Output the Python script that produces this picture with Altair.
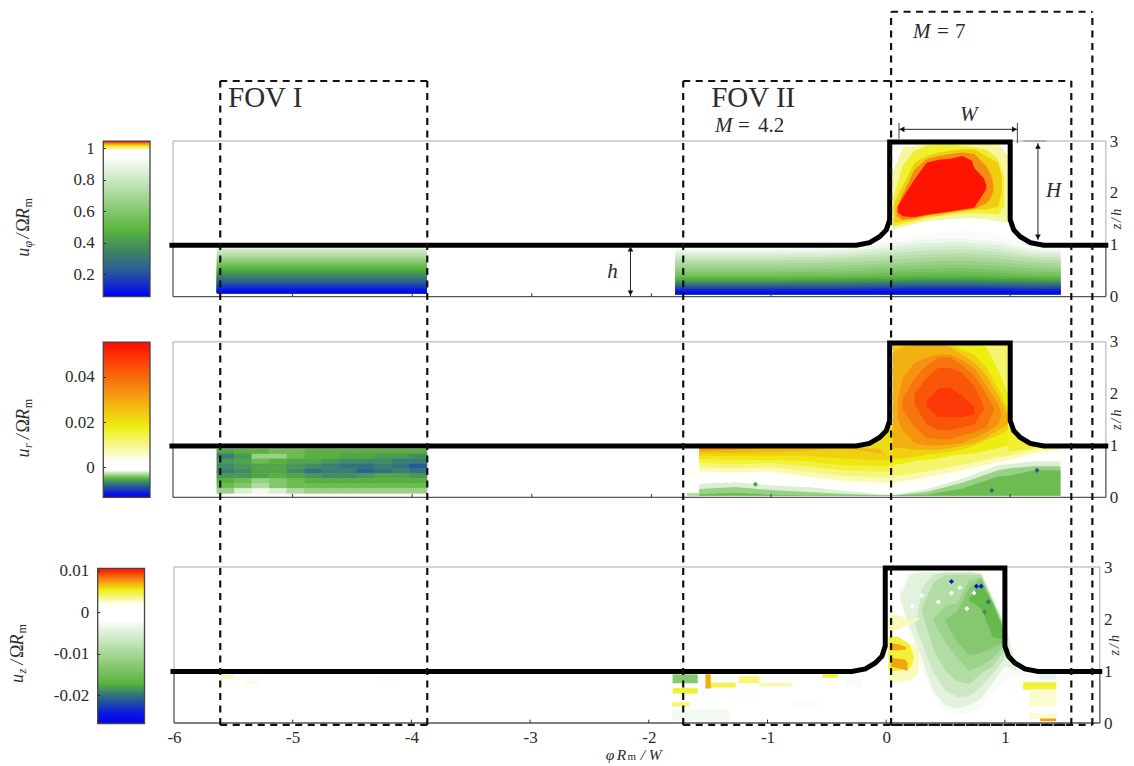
import altair as alt
import pandas as pd

FONT = "Liberation Serif"
TXT = "#2b2b2b"

# ---- plot box on the page and axis calibration of each panel
PL, PR, PT, PB = 174.0, 1100.0, 8.0, 723.0
CAL = {1: (173.0, 119.6, 296.7, 51.9), 2: (173.0, 119.6, 497.3, 51.8), 3: (174.0, 118.7, 723.0, 52.0)}
RIGHT_OFFSET = {1: 5.7, 2: 5.7, 3: 0}
Z_TICKS = [0, 1, 2, 3]
PHI_TICKS = [-6, -5, -4, -3, -2, -1, 0, 1]
PHI_INNER = [-5, -4, -3, -2, -1, 0, 1]

# ---- colour maps (stop value, colour)
BLUE, TEAL, GREEN, YEL, ORA, RED = "#0000f5", "#2c6a86", "#5ab43c", "#eeee12", "#f68c10", "#ff0c00"
MAP1_V = [0.058, 0.10, 0.22, 0.333, 0.48, 0.947, 0.985, 1.0, 1.015, 1.03, 1.046]
MAP1_C = [BLUE, "#0a18e0", "#2a5a9a", "#3a8068", GREEN, "#ffffff", "#ffffff", "#f6f6a0", YEL, ORA, RED]
MAP2_V = [-0.0133, -0.0115, -0.0078, -0.0049, -0.0012, 0.0025, 0.0047, 0.0179, 0.0341, 0.0553]
MAP2_C = [BLUE, "#0a18e0", TEAL, GREEN, "#ffffff", "#ffffff", "#fdfdd8", YEL, ORA, RED]
MAP3_V = [-0.0268, -0.0244, -0.0204, -0.0171, -0.0018, 0.0018, 0.0054, 0.0078, 0.0106]
MAP3_C = [BLUE, "#0a18e0", TEAL, GREEN, "#ffffff", "#ffffff", YEL, ORA, RED]

# ---- colour bars
BAR1 = dict(xl=103.3, xr=150.0, vref=1.0, yref=148.3, ppv=157.5, ticks=[0.2, 0.4, 0.6, 0.8, 1], stops=(MAP1_V, MAP1_C))
BAR2 = dict(xl=103.3, xr=150.0, vref=0.0, yref=467.3, ppv=2265.0, ticks=[0, 0.02, 0.04], stops=(MAP2_V, MAP2_C))
BAR3 = dict(xl=97.7, xr=144.5, vref=0.0, yref=612.3, ppv=4150.0, ticks=[-0.02, -0.01, 0, 0.01], stops=(MAP3_V, MAP3_C))

# ---- wall outline
WALL_PHI = [-6.03, -0.288, -0.176, -0.092, -0.036, -0.008, -0.008, 1.0, 1.0, 1.03, 1.084, 1.168, 1.28, 1.82]
WALL_Z = [0.99, 0.99, 1.04, 1.155, 1.285, 1.48, 2.98, 2.98, 1.48, 1.285, 1.155, 1.04, 0.99, 0.99]

# ---- u_phi, FOV I: colour levels with their top edge
G_FOV1 = [-5.633, -3.877]
U1A_V = [0.82, 0.79, 0.76, 0.73, 0.70, 0.67, 0.64, 0.61, 0.58, 0.55, 0.52, 0.495, 0.47, 0.445, 0.42, 0.395, 0.37, 0.345, 0.32,
         0.295, 0.27, 0.245, 0.22, 0.195, 0.17, 0.145, 0.12, 0.10, 0.08]
U1A_Z = [0.93, 0.89, 0.85, 0.815, 0.78, 0.75, 0.72, 0.69, 0.66, 0.63, 0.60, 0.57, 0.54, 0.515, 0.49, 0.465, 0.44, 0.415, 0.39,
         0.365, 0.34, 0.31, 0.28, 0.255, 0.23, 0.20, 0.17, 0.145, 0.12]

# ---- u_phi, FOV II: lower field
G1 = [-1.80, -1.0, -0.4, 0.02, 0.3, 0.6, 0.9, 1.2, 1.42]
U1B_V = [0.93, 0.90, 0.86, 0.82, 0.78, 0.74, 0.70, 0.66, 0.62, 0.58, 0.54, 0.50, 0.46, 0.42, 0.38, 0.34, 0.30, 0.26, 0.22,
         0.18, 0.15, 0.12, 0.08]
U1B_TOP = [
    [0.98, 0.98, 0.98, 1.10, 1.22, 1.28, 1.20, 1.00, 0.98],
    [0.90, 0.90, 0.92, 1.02, 1.10, 1.12, 1.06, 0.92, 0.90],
    [0.85, 0.85, 0.87, 0.96, 1.03, 1.05, 0.99, 0.87, 0.85],
    [0.80, 0.80, 0.82, 0.90, 0.96, 0.98, 0.92, 0.82, 0.80],
    [0.75, 0.75, 0.77, 0.84, 0.89, 0.91, 0.86, 0.77, 0.75],
    [0.70, 0.70, 0.72, 0.78, 0.82, 0.84, 0.80, 0.72, 0.70],
    [0.64, 0.64, 0.66, 0.71, 0.75, 0.77, 0.73, 0.66, 0.64],
    [0.58, 0.58, 0.60, 0.64, 0.68, 0.70, 0.66, 0.60, 0.58],
    [0.52, 0.52, 0.54, 0.58, 0.61, 0.62, 0.59, 0.54, 0.52],
    [0.47, 0.47, 0.48, 0.52, 0.54, 0.55, 0.52, 0.48, 0.47],
    [0.42, 0.42, 0.43, 0.46, 0.48, 0.49, 0.46, 0.43, 0.42],
    [0.38, 0.38, 0.39, 0.41, 0.43, 0.43, 0.41, 0.39, 0.38],
    [0.35, 0.35, 0.36, 0.375, 0.39, 0.39, 0.375, 0.36, 0.35],
    [0.32, 0.32, 0.33, 0.34, 0.35, 0.35, 0.34, 0.33, 0.32],
    [0.295, 0.295, 0.305, 0.315, 0.325, 0.325, 0.315, 0.305, 0.295],
    [0.27, 0.27, 0.28, 0.29, 0.30, 0.30, 0.29, 0.28, 0.27],
    [0.25, 0.25, 0.255, 0.265, 0.275, 0.275, 0.265, 0.255, 0.25],
    [0.23, 0.23, 0.23, 0.24, 0.25, 0.25, 0.24, 0.23, 0.23],
    [0.205, 0.205, 0.205, 0.215, 0.225, 0.225, 0.215, 0.205, 0.205],
    [0.18, 0.18, 0.18, 0.19, 0.20, 0.20, 0.19, 0.18, 0.18],
    [0.16, 0.16, 0.16, 0.17, 0.175, 0.175, 0.17, 0.16, 0.16],
    [0.14, 0.14, 0.14, 0.15, 0.15, 0.15, 0.15, 0.14, 0.14],
    [0.10, 0.10, 0.10, 0.11, 0.11, 0.11, 0.11, 0.10, 0.10],
]

# ---- u_phi, jet inside the rib: value, phi, top, bottom
U1C = [
    (1.0, [0.02, 0.1, 0.2, 0.3, 0.4, 0.5, 0.6, 0.7, 0.8, 0.9, 0.98],
     [2.39, 2.88, 2.91, 2.94, 2.95, 2.95, 2.95, 2.95, 2.95, 2.95, 2.71],
     [1.29, 1.35, 1.40, 1.45, 1.48, 1.49, 1.51, 1.51, 1.49, 1.45, 1.43]),
    (1.012, [0.02, 0.1, 0.2, 0.3, 0.4, 0.5, 0.6, 0.7, 0.8, 0.9, 0.95],
     [1.87, 2.52, 2.81, 2.91, 2.93, 2.93, 2.91, 2.88, 2.84, 2.65, 2.30],
     [1.35, 1.40, 1.45, 1.51, 1.55, 1.58, 1.61, 1.61, 1.61, 1.58, 1.75]),
    (1.02, [0.03, 0.1, 0.2, 0.3, 0.4, 0.5, 0.6, 0.7, 0.8, 0.9, 0.93],
     [1.80, 2.13, 2.58, 2.71, 2.78, 2.81, 2.84, 2.84, 2.71, 2.58, 2.30],
     [1.42, 1.45, 1.48, 1.55, 1.56, 1.61, 1.64, 1.68, 1.68, 1.74, 2.00]),
    (1.03, [0.05, 0.1, 0.2, 0.3, 0.4, 0.5, 0.6, 0.7, 0.8, 0.84, 0.86],
     [1.72, 1.97, 2.45, 2.65, 2.71, 2.75, 2.78, 2.75, 2.52, 2.35, 2.15],
     [1.55, 1.48, 1.51, 1.56, 1.60, 1.63, 1.66, 1.69, 1.80, 1.90, 2.05]),
    (1.045, [0.06, 0.1, 0.2, 0.3, 0.4, 0.5, 0.6, 0.68, 0.7, 0.78, 0.80],
     [1.74, 1.90, 2.26, 2.58, 2.64, 2.66, 2.71, 2.62, 2.48, 2.28, 2.15],
     [1.62, 1.55, 1.53, 1.58, 1.61, 1.64, 1.68, 1.71, 1.72, 2.00, 2.08]),
]

# ---- u_r, FOV I: cells (top row first), in units of 0.001
G2A_X0, G2A_X1, G2A_Z0, G2A_Z1 = -5.633, -3.877, 0.077, 0.93
U2A = [
    [-5.5, -5, -5, -4.5, -4.5, -5, -5, -5, -5, -5, -5, -5],
    [-7, -6, -3.5, -3.5, -4.5, -5, -5, -5.5, -5.5, -6, -6, -6.5],
    [-6, -5.5, -4.5, -5, -5.5, -5.5, -6, -6.5, -6.5, -6.5, -7, -7],
    [-6.5, -6, -5.5, -5.5, -6, -6.5, -7, -7.5, -7.5, -7, -7.5, -8.5],
    [-7, -6.5, -5.5, -5.5, -6.5, -7.5, -7, -7, -8, -7.5, -7, -7.5],
    [-6, -6, -5.5, -5, -5.5, -6, -6.5, -6.5, -6, -5.5, -5.5, -6],
    [-5, -4.5, -3.5, -4, -4.5, -5, -5, -5, -5, -5, -5, -5],
    [-4.5, -4, -3, -4, -4.5, -4.5, -4.5, -4.5, -4.5, -4.5, -4.5, -4.5],
    [-3.5, -2, -1.5, -2, -3, -3.5, -3.5, -3.5, -3.5, -3.5, -3.5, -3.5],
]

# ---- u_r, FOV II: positive levels (lower edge, top edge follows the wall)
G2 = [-1.60, -1.3, -1.0, -0.7, -0.4, -0.1, 0.02, 0.3, 0.6, 0.9, 1.0, 1.2, 1.42]
U2B_V = [0.003, 0.007, 0.011, 0.015, 0.019, 0.023, 0.027, 0.032]
U2B_BOT = [
    [0.42, 0.38, 0.42, 0.30, 0.22, 0.16, 0.17, 0.25, 0.40, 0.58, 0.60, 0.77, 0.85],
    [0.50, 0.48, 0.50, 0.40, 0.32, 0.28, 0.28, 0.38, 0.52, 0.68, 0.72, 0.85, 0.93],
    [0.58, 0.56, 0.58, 0.50, 0.42, 0.38, 0.40, 0.50, 0.63, 0.78, 0.80, 0.92, 0.96],
    [0.66, 0.64, 0.66, 0.60, 0.52, 0.50, 0.50, 0.60, 0.72, 0.85, 0.88, 0.96, 0.96],
    [0.74, 0.72, 0.72, 0.70, 0.62, 0.60, 0.62, 0.70, 0.82, 0.93, 0.95, 0.96, 0.96],
    [0.80, 0.80, 0.80, 0.80, 0.75, 0.72, 0.72, 0.80, 0.92, 0.96, 0.96, 0.96, 0.96],
    [0.86, 0.86, 0.87, 0.90, 0.96, 0.85, 0.82, 0.90, 0.96, 0.96, 0.96, 0.96, 0.96],
    [0.90, 0.92, 0.96, 0.96, 0.96, 0.96, 0.92, 0.96, 0.96, 0.96, 0.96, 0.96, 0.96],
]
# corners under the fillets
U2E = [
    (0.021, [-0.22, -0.1, -0.03, 0.03], [1.0, 1.1, 1.3, 1.45], [0.94, 0.94, 0.80, 0.72]),
    (0.016, [0.97, 1.04, 1.1, 1.22], [1.45, 1.2, 1.08, 0.97], [0.95, 0.90, 0.93, 0.95]),
]
# negative levels (upper edge), bottom at z = 0.03
U2C_V = [-0.002, -0.0035, -0.0045]
U2C_TOP = [
    [0.26, 0.29, 0.23, 0.20, 0.13, 0.065, 0.04, 0.16, 0.36, 0.62, 0.64, 0.69, 0.69],
    [0.16, 0.20, 0.14, 0.10, 0.07, 0.04, 0.04, 0.10, 0.28, 0.52, 0.56, 0.60, 0.60],
    [0.06, 0.09, 0.05, 0.04, 0.04, 0.04, 0.04, 0.05, 0.17, 0.40, 0.42, 0.52, 0.52],
]
U2_WEDGE = [(-1.70, -1.60, 0.03, 0.08, -0.003), (-1.70, -1.60, 0.42, 0.47, 0.004)]
# jet in the rib
GR = [0.02, 0.1, 0.2, 0.3, 0.4, 0.5, 0.6, 0.7, 0.8, 0.9, 0.98]
U2D = [
    (0.012, GR, [2.95] * 11, [0.40, 0.43, 0.47, 0.50, 0.55, 0.60, 0.63, 0.68, 0.73, 0.78, 0.80]),
    (0.018, GR, [2.95, 2.95, 2.95, 2.95, 2.95, 2.95, 2.95, 2.95, 2.90, 2.45, 2.00],
     [0.62, 0.65, 0.70, 0.72, 0.75, 0.80, 0.82, 0.85, 0.90, 0.95, 1.00]),
    (0.023, GR, [2.95, 2.95, 2.95, 2.95, 2.95, 2.95, 2.85, 2.75, 2.50, 2.10, 1.70],
     [0.75, 0.75, 0.78, 0.82, 0.85, 0.88, 0.92, 1.00, 1.10, 1.20, 1.30]),
    (0.028, GR, [2.80, 2.90, 2.95, 2.95, 2.95, 2.90, 2.75, 2.60, 2.35, 1.95, 1.60],
     [0.95, 0.95, 0.92, 0.92, 0.92, 0.95, 1.00, 1.05, 1.15, 1.30, 1.40]),
    (0.033, [0.06, 0.1, 0.2, 0.3, 0.4, 0.5, 0.6, 0.7, 0.8, 0.9, 0.93],
     [1.90, 2.30, 2.60, 2.70, 2.75, 2.75, 2.65, 2.50, 2.15, 1.80, 1.60],
     [1.50, 1.30, 1.05, 1.00, 1.00, 1.02, 1.05, 1.15, 1.25, 1.40, 1.60]),
    (0.038, [0.1, 0.2, 0.3, 0.4, 0.5, 0.6, 0.7, 0.8, 0.87],
     [1.90, 2.30, 2.55, 2.70, 2.70, 2.55, 2.35, 2.00, 1.70],
     [1.70, 1.35, 1.15, 1.12, 1.12, 1.20, 1.25, 1.35, 1.70]),
    (0.043, [0.2, 0.3, 0.4, 0.5, 0.6, 0.7, 0.78],
     [2.00, 2.30, 2.50, 2.50, 2.40, 2.15, 1.75],
     [1.80, 1.40, 1.30, 1.30, 1.35, 1.40, 1.70]),
    (0.048, [0.3, 0.4, 0.5, 0.6, 0.7],
     [1.85, 2.10, 2.12, 1.95, 1.75],
     [1.75, 1.55, 1.55, 1.55, 1.60]),
]
U2_SPOT_PHI = [1.224, 0.846, -1.13]
U2_SPOT_Z = [0.52, 0.13, 0.25]
U2_SPOT_V = [-0.0085, -0.008, -0.0055]

# ---- u_z: patches phi0, phi1, z0, z1, value
U3_PATCH = [
    (-1.797, -1.59, 0.77, 0.93, -0.013), (-1.797, -1.59, 0.57, 0.67, 0.0048), (-1.80, -1.66, 0.32, 0.40, 0.0038),
    (-1.80, -1.32, 0.05, 0.25, -0.0028), (-1.46, -1.27, 0.83, 0.90, -0.002), (-1.49, -1.27, 0.69, 0.77, 0.0045),
    (-1.52, -1.48, 0.67, 0.93, 0.007), (-1.24, -1.07, 0.77, 0.90, 0.0038), (-1.07, -0.80, 0.71, 0.77, 0.003),
    (-0.535, -0.41, 0.88, 0.93, 0.005), (-0.34, -0.20, 0.70, 0.86, -0.0025), (1.155, 1.43, 0.64, 0.78, 0.0048),
    (1.21, 1.43, 0.32, 0.64, 0.0025), (1.21, 1.43, 0.08, 0.19, 0.0025), (1.30, 1.43, 0.04, 0.08, 0.0075),
    (1.30, 1.43, 0.84, 0.94, -0.004), (-5.60, -5.50, 0.85, 0.92, 0.0028), (-5.41, -5.28, 0.76, 0.80, 0.0024),
    (-4.30, -4.10, 0.80, 0.90, -0.0022), (-1.30, -1.10, 0.45, 0.55, -0.0023), (-0.80, -0.55, 0.30, 0.42, -0.0022),
]
U3A = [
    (-0.0025, [0.1, 0.2, 0.3, 0.4, 0.5, 0.6, 0.7, 0.8, 0.9, 1.0, 1.1, 1.3],
     [2.60, 2.92, 2.93, 2.93, 2.93, 2.93, 2.93, 2.92, 2.55, 2.00, 1.05, 0.90],
     [2.50, 1.70, 1.05, 0.50, 0.22, 0.15, 0.20, 0.30, 0.60, 0.80, 0.90, 0.90]),
    (-0.0045, [0.12, 0.2, 0.3, 0.4, 0.5, 0.6, 0.7, 0.8, 0.9, 1.0, 1.1],
     [2.45, 2.85, 2.90, 2.90, 2.90, 2.90, 2.90, 2.87, 2.40, 1.90, 1.05],
     [2.35, 1.85, 1.25, 0.60, 0.34, 0.28, 0.34, 0.47, 0.78, 1.10, 1.00]),
    (-0.0065, [0.25, 0.3, 0.4, 0.5, 0.6, 0.7, 0.8, 0.9, 1.0],
     [1.90, 2.60, 2.85, 2.90, 2.90, 2.90, 2.87, 2.35, 1.85],
     [1.85, 1.55, 0.95, 0.62, 0.50, 0.52, 0.70, 0.95, 1.25]),
    (-0.009, [0.3, 0.4, 0.5, 0.6, 0.7, 0.8, 0.9, 1.0],
     [2.20, 2.70, 2.85, 2.85, 2.85, 2.85, 2.35, 1.85],
     [2.15, 1.40, 1.00, 0.80, 0.75, 0.95, 1.10, 1.40]),
    (-0.011, [0.4, 0.5, 0.6, 0.7, 0.8, 0.9, 1.0],
     [2.00, 2.25, 2.30, 2.75, 2.80, 2.30, 1.80],
     [1.95, 1.55, 1.25, 1.00, 1.10, 1.25, 1.50]),
    (-0.013, [0.5, 0.6, 0.7, 0.8, 0.9, 1.0],
     [2.00, 2.15, 2.60, 2.78, 2.30, 1.75],
     [1.95, 1.55, 1.30, 1.35, 1.45, 1.55]),
    (-0.016, [0.7, 0.8, 0.9, 1.0],
     [2.40, 2.70, 2.30, 1.72],
     [2.35, 2.20, 1.65, 1.60]),
]
U3B = [
    (0.0028, [0.02, 0.1, 0.2, 0.28], [2.10, 2.07, 1.98, 2.03], [1.75, 1.80, 1.88, 2.00]),
    (0.0028, [0.02, 0.1, 0.2, 0.27, 0.28], [1.70, 1.65, 1.55, 1.45, 1.20], [0.82, 0.78, 0.82, 0.95, 1.15]),
    (0.0048, [0.02, 0.1, 0.2, 0.23], [1.65, 1.66, 1.50, 1.30], [1.00, 1.00, 1.05, 1.20]),
    (0.0072, [0.03, 0.1, 0.17], [1.53, 1.52, 1.45], [1.40, 1.40, 1.42]),
    (0.0072, [0.04, 0.16, 0.18], [1.25, 1.22, 1.15], [1.08, 1.02, 1.00]),
]
U3_SPOT_PHI = [0.55, 0.76, 0.80, 0.86, 0.83, 0.55, 0.74, 0.44, 0.30, 0.68, 0.22, 0.62]
U3_SPOT_Z = [2.72, 2.63, 2.63, 2.33, 2.14, 2.50, 2.50, 2.33, 2.45, 2.20, 2.25, 2.60]
U3_SPOT_V = [-0.025, -0.025, -0.025, -0.02, -0.019, 0.0, 0.0, 0.0, 0.0, -0.002, 0.0, -0.002]

# ---- annotation in the coordinates of the top panel
BOXES = [(-5.605, -3.874, 4.156), (-1.734, 1.511, 4.156), (0.004, 1.687, 5.49)]
BOX_BOTTOM = -8.25
NOTES = [
    ("FOV I", -5.54, 3.83, 29, "n"), ("FOV II", -1.50, 3.83, 29, "n"),
    ("M", -1.468, 3.29, 21, "i"), ("=", -1.276, 3.29, 21, "n"), ("4.2", -1.109, 3.29, 21, "n"),
    ("M", 0.187, 5.10, 21, "i"), ("=", 0.388, 5.10, 21, "n"), ("7", 0.538, 5.10, 21, "n"),
    ("W", 0.58, 3.50, 21, "i"), ("H", 1.30, 2.04, 21, "i"), ("h", -2.37, 0.476, 21, "i"),
]
DIM_LINES = [
    (0.07, 1.06, 3.225, 3.225, "#222222"), (0.07, 0.07, 3.04, 3.347, "#444444"),
    (1.06, 1.06, 2.96, 3.347, "#444444"), (1.11, 1.30, 3.0, 3.0, "#888888"),
    (1.232, 1.232, 1.09, 2.96, "#222222"), (-2.175, -2.175, 0.013, 0.977, "#222222"),
]
HEADS = [
    (0.095, 3.225, "triangle-left"), (1.035, 3.225, "triangle-right"), (1.232, 2.90, "triangle-up"),
    (1.232, 1.15, "triangle-down"), (-2.175, 0.92, "triangle-up"), (-2.175, 0.07, "triangle-down"),
]
# bar labels, reading upwards: text, z, sub flag, style
BAR_TITLE = [("u", 0.77, 0, "i"), ("/", 1.12, 0, "i"), ("Ω", 1.25, 0, "n"), ("R", 1.49, 0, "i"), ("m", 1.72, 1, "n")]
BAR_SUB_Z = 0.95
BAR_TITLE_PHI = {1: (-7.25, -7.21, "φ"), 2: (-7.25, -7.21, "r"), 3: (-7.317, -7.28, "z")}
X_TITLE = [("φ", -2.363, -0.615, 15.5, "i"), ("R", -2.27, -0.615, 15.5, "i"), ("m", -2.18, -0.655, 11, "n"),
           ("/", -2.068, -0.615, 15.5, "i"), ("W", -2.0, -0.615, 15.5, "i")]


def x_dom(p):
    x0, xu, _, _ = CAL[p]
    return [-6 + (PL - x0) / xu, -6 + (PR - x0) / xu]


def y_dom(p):
    _, _, z0, zu = CAL[p]
    return [(z0 - PB) / zu, (z0 - PT) / zu]


def X(p, f="x0", axis=None):
    return alt.X(f"{f}:Q", scale=alt.Scale(domain=x_dom(p), nice=False, zero=False), axis=axis)


def Y(p, f="y0", axis=None):
    return alt.Y(f"{f}:Q", scale=alt.Scale(domain=y_dom(p), nice=False, zero=False), axis=axis, stack=None)


def cscale(stops):
    return alt.Scale(domain=stops[0], range=stops[1], interpolate="rgb", nice=False, zero=False)


def levels(p, stops, items):
    rows = []
    for k, (v, grid, top, bot) in enumerate(items):
        for g, t, b in zip(grid, top, bot):
            rows.append(dict(level=k, x0=g, y0=t, y1=b, v=v))
    return alt.Chart(pd.DataFrame(rows)).mark_area(orient="vertical", interpolate="linear").encode(
        x=X(p), y=Y(p), y2=alt.Y2("y1:Q"), detail="level:N",
        color=alt.Color("v:Q", scale=cscale(stops), legend=None),
    )


def bands(p, stops, grid, values, tops, bots):
    return levels(p, stops, [(v, grid, tops[k], bots[k]) for k, v in enumerate(values)])


def cells(p, stops, rows):
    df = pd.DataFrame(rows, columns=["x0", "x1", "y1", "y0", "v"])
    return alt.Chart(df).mark_rect(strokeWidth=0.6).encode(
        x=X(p), x2=alt.X2("x1:Q"), y=Y(p), y2=alt.Y2("y1:Q"),
        color=alt.Color("v:Q", scale=cscale(stops), legend=None),
        stroke=alt.Stroke("v:Q", scale=cscale(stops), legend=None),
    )


def spots(p, stops, phi, z, v, size=26):
    df = pd.DataFrame(dict(x0=phi, y0=z, v=v))
    return alt.Chart(df).mark_point(filled=True, shape="diamond", opacity=1, size=size).encode(
        x=X(p), y=Y(p), color=alt.Color("v:Q", scale=cscale(stops), legend=None),
    )


def texts(p, rows):
    df = pd.DataFrame(rows, columns=["t", "x0", "y0", "s", "st", "a"])
    out = []
    for st, fs in (("n", "normal"), ("i", "italic")):
        part = df[df.st == st]
        if len(part):
            out.append(alt.Chart(part).mark_text(font=FONT, fontStyle=fs, align="left", baseline="middle", color=TXT).encode(
                x=X(p), y=Y(p), text="t:N", size=alt.Size("s:Q", scale=None),
                angle=alt.Angle("a:Q", scale=None),
            ))
    return out


def rules(p, rows, width=1.0):
    df = pd.DataFrame(rows, columns=["x0", "x1", "y0", "y1", "c"])
    return alt.Chart(df).mark_rule(strokeWidth=width).encode(
        x=X(p), x2=alt.X2("x1:Q"), y=Y(p), y2=alt.Y2("y1:Q"), color=alt.Color("c:N", scale=None, legend=None),
    )


def frame(p):
    g, d = "#a8a8a8", "#555555"
    return [
        rules(p, [(-6, 1.8, 3, 3, g), (-6, -6, 1, 3, g), (1.8, 1.8, 1, 3, g)], 1.0),
        rules(p, [(-6, 1.8, 0, 0, d), (-6, -6, 0, 1, d), (1.8, 1.8, 0, 1, d)], 1.3),
        rules(p, [(t, t, 0, 0.065, "#333333") for t in PHI_INNER], 1.0),
    ]


def wall(p):
    df = pd.DataFrame(dict(x0=WALL_PHI, y0=WALL_Z, i=range(len(WALL_PHI))))
    return alt.Chart(df).mark_line(color="black", strokeWidth=5, strokeJoin="miter", strokeCap="butt").encode(
        x=X(p), y=Y(p), order="i:Q",
    )


def axis_layer(p):
    ax = alt.Axis(orient="right", values=Z_TICKS, offset=RIGHT_OFFSET[p], tickSize=0, domain=False, grid=False, title=None,
                  labelFont=FONT, labelFontSize=17, labelColor=TXT, labelPadding=3.5, labelFlush=False, labelOverlap=False,
                  labelExpr="'' + datum.value")
    df = pd.DataFrame(dict(x0=[-6, -6], y0=[0, 3]))
    x_axis = None
    if p == 3:
        x_axis = alt.Axis(orient="bottom", values=PHI_TICKS, tickSize=0, domain=False, grid=False, title=None,
                          labelFont=FONT, labelFontSize=17, labelColor=TXT, labelPadding=6, labelFlush=False, labelOverlap=False,
                          labelExpr="'' + datum.value")
    return alt.Chart(df).mark_point(opacity=0, size=1).encode(x=X(p, axis=x_axis), y=Y(p, axis=ax))


def panel_text(p):
    a, b, sub = BAR_TITLE_PHI[p]
    rows = [(t, b if s else a, z, 12 if s else 18, st, 270) for t, z, s, st in BAR_TITLE]
    rows.append((sub, b, BAR_SUB_Z, 12, "i", 270))
    x_right = {1: 1.893, 2: 1.893, 3: 1.925}[p]
    rows.append(("z", x_right, 1.3, 14, "i", 270))
    rows.append(("/", x_right, 1.44, 14, "i", 270))
    rows.append(("h", x_right, 1.56, 14, "i", 270))
    if p == 3:
        rows += [(t, x, z, s, st, 0) for t, x, z, s, st in X_TITLE]
    return texts(p, rows)


def colorbar(b):
    w = b["xr"] - b["xl"]
    vdom = [b["vref"] - (PB - b["yref"]) / b["ppv"], b["vref"] + (b["yref"] - PT) / b["ppv"]]
    vs, cs = b["stops"]
    grad = alt.LinearGradient(
        gradient="linear", x1=0, x2=0, y1=1, y2=0,
        stops=[alt.GradientStop(color=c, offset=(v - vs[0]) / (vs[-1] - vs[0])) for v, c in zip(vs, cs)],
    )
    df = pd.DataFrame(dict(x0=[0.0], x1=[1.0], y0=[vs[-1]], y1=[vs[0]]))
    ax = alt.Axis(orient="left", values=b["ticks"], offset=PL - b["xl"] - 2, tickSize=2, tickColor="#222222", domain=False,
                  grid=False, title=None, zindex=1, labelFont=FONT, labelFontSize=17, labelColor=TXT, labelPadding=9,
                  labelFlush=False, labelOverlap=False, labelExpr="'' + datum.value")
    return alt.Chart(df).mark_rect(fill=grad, stroke="#444444", strokeWidth=1.3).encode(
        x=alt.X("x0:Q", scale=alt.Scale(domain=[(PL - b["xl"]) / w, (PR - b["xl"]) / w], nice=False, zero=False), axis=None),
        x2=alt.X2("x1:Q"),
        y=alt.Y("y0:Q", scale=alt.Scale(domain=vdom, nice=False, zero=False), axis=ax),
        y2=alt.Y2("y1:Q"),
    )


# ---- panel 1
S1 = (MAP1_V, MAP1_C)
p1 = alt.layer(
    bands(1, S1, G_FOV1, U1A_V, [[z, z] for z in U1A_Z], [[0.065, 0.065] for _ in U1A_Z]),
    bands(1, S1, G1, U1B_V, U1B_TOP, [[0.046] * len(G1) for _ in U1B_V]),
    levels(1, S1, U1C),
    *frame(1), wall(1), *panel_text(1),
)

# ---- panel 2
S2 = (MAP2_V, MAP2_C)
n_r, n_c = len(U2A), len(U2A[0])
dx = (G2A_X1 - G2A_X0) / n_c
dz = (G2A_Z1 - G2A_Z0) / n_r
rows2 = [
    (G2A_X0 + j * dx, G2A_X0 + (j + 1) * dx, G2A_Z1 - (i + 1) * dz, G2A_Z1 - i * dz, U2A[i][j] / 1000)
    for i in range(n_r) for j in range(n_c)
] + U2_WEDGE
p2 = alt.layer(
    cells(2, S2, rows2),
    bands(2, S2, G2, U2B_V, [[0.96] * len(G2) for _ in U2B_V], U2B_BOT),
    levels(2, S2, U2E),
    levels(2, S2, U2D),
    bands(2, S2, G2, U2C_V, U2C_TOP, [[0.03] * len(G2) for _ in U2C_V]),
    spots(2, S2, U2_SPOT_PHI, U2_SPOT_Z, U2_SPOT_V),
    *frame(2), wall(2), *panel_text(2),
)

# ---- panel 3
S3 = (MAP3_V, MAP3_C)
p3 = alt.layer(
    cells(3, S3, U3_PATCH),
    levels(3, S3, U3A),
    levels(3, S3, U3B),
    spots(3, S3, U3_SPOT_PHI, U3_SPOT_Z, U3_SPOT_V),
    *frame(3), wall(3), *panel_text(3),
)

# ---- dashed boxes and annotation (top-panel coordinates)
box_rows = []
for a, b, top in BOXES:
    box_rows += [(a, b, top, top), (a, a, BOX_BOTTOM, top), (b, b, BOX_BOTTOM, top), (a, b, BOX_BOTTOM, BOX_BOTTOM)]
box_df = pd.DataFrame(box_rows, columns=["x0", "x1", "y0", "y1"])
dashes = alt.Chart(box_df).mark_rule(color="#111111", strokeWidth=2.2, strokeDash=[7, 5.5]).encode(
    x=X(1), x2=alt.X2("x1:Q"), y=Y(1), y2=alt.Y2("y1:Q"),
)
heads = alt.Chart(pd.DataFrame(HEADS, columns=["x0", "y0", "sh"])).mark_point(filled=True, opacity=1, color="#111111", size=32).encode(
    x=X(1), y=Y(1), shape=alt.Shape("sh:N", scale=None, legend=None),
)
overlay = alt.layer(
    dashes, rules(1, DIM_LINES, 1.0), heads,
    *texts(1, [(t, x, z, s, st, 0) for t, x, z, s, st in NOTES]),
)

chart = alt.layer(
    p1, p2, p3, axis_layer(1), axis_layer(2), axis_layer(3), colorbar(BAR1), colorbar(BAR2), colorbar(BAR3), overlay,
).resolve_scale(x="independent", y="independent", color="independent", stroke="independent").properties(
    width=PR - PL,
    height=PB - PT,
    padding={"left": 166, "top": 0, "right": 26, "bottom": 41},
    autosize=alt.AutoSizeParams(type="none"),
    background="white",
).configure_view(stroke=None)

chart.save("out.html", embed_options={"renderer": "svg", "actions": False})
